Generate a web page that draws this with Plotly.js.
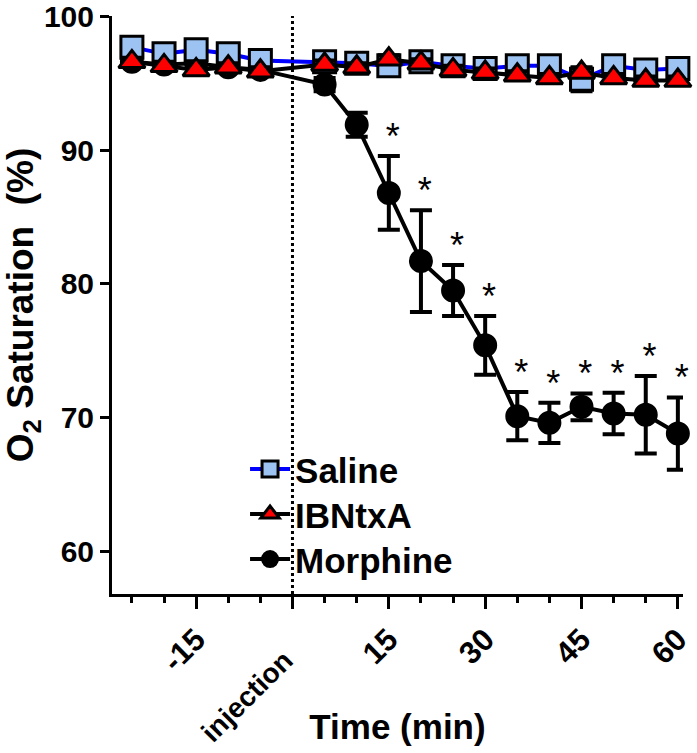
<!DOCTYPE html>
<html>
<head>
<meta charset="utf-8">
<script src="https://cdn.plot.ly/plotly-3.0.1.min.js"></script>
<style>html,body{margin:0;padding:0;background:#fff;}#chart{width:697px;height:753px;}</style>
</head>
<body>
<div id="chart"></div>
<script>
// Time points (min)
const times = [-25, -20, -15, -10, -5, 5, 10, 15, 20, 25, 30, 35, 40, 45, 50, 55, 60];
// Series values (O2 saturation, %)
const saline    = [97.7, 97.2, 97.5, 97.2, 96.7, 96.6, 96.5, 96.3, 96.6, 96.3, 96.1, 96.3, 96.3, 95.3, 96.3, 96.0, 96.1];
const salineErr = [0.3, 0.3, 0.3, 0.3, 0.3, 0.2, 0.2, 0.5, 0.3, 0.3, 0.3, 0.3, 0.3, 0.9, 0.3, 0.5, 0.5];
const ibntxa    = [96.6, 96.3, 96.0, 96.2, 95.9, 96.4, 96.2, 96.8, 96.5, 96.0, 95.8, 95.6, 95.4, 95.8, 95.4, 95.2, 95.2];
const ibntxaErr = [0.3, 0.3, 0.3, 0.3, 0.3, 0.3, 0.3, 0.3, 0.3, 0.3, 0.3, 0.3, 0.3, 0.3, 0.3, 0.3, 0.3];
const morphine    = [96.6, 96.4, 96.5, 96.2, 96.0, 94.9, 91.9, 86.8, 81.7, 79.5, 75.4, 70.1, 69.6, 70.8, 70.3, 70.2, 68.8];
const morphineErr = [0.3, 0.3, 0.3, 0.3, 0.3, 0.5, 0.9, 2.75, 3.8, 1.9, 2.2, 1.8, 1.5, 1.0, 1.55, 2.9, 2.7];
// Significance markers (times with *)
const sigTimes = [15, 20, 25, 30, 35, 40, 45, 50, 55, 60];
// Axis ticks
const xTickVals = [-15, 0, 15, 30, 45, 60];
const xTickText = ['-15', '', '15', '30', '45', '60'];
const xMinorVals = [-25, -20, -10, -5, 5, 10, 20, 25, 35, 40, 50, 55];
const yTickVals = [60, 70, 80, 90, 100];
const seriesNames = ['Saline', 'IBNtxA', 'Morphine'];

const FONT = '"Liberation Sans", Arial, sans-serif';

const sigY = sigTimes.map(t => { const i = times.indexOf(t); return morphine[i] + morphineErr[i] + 1.2; });
const sigX = sigTimes.map(t => t + 0.6);

const traces = [
  {
    x: times, y: morphine, name: seriesNames[2], type: 'scatter', mode: 'lines+markers', cliponaxis: false,
    line: {color: '#000', width: 4},
    marker: {symbol: 'circle', size: 22, color: '#000', line: {color: '#000', width: 2}},
    error_y: {type: 'data', array: morphineErr, visible: true, color: '#000', thickness: 4, width: 11},
    legend: 'legend3'
  },
  {
    x: times, y: saline, name: seriesNames[0], type: 'scatter', mode: 'lines+markers', cliponaxis: false,
    line: {color: '#0000FF', width: 4},
    marker: {symbol: 'square', size: 22, color: '#9DC3F2', line: {color: '#000', width: 3}},
    error_y: {type: 'data', array: salineErr, visible: true, color: '#000', thickness: 4, width: 11},
    legend: 'legend'
  },
  {
    x: times, y: ibntxa, name: seriesNames[1], type: 'scatter', mode: 'lines+markers', cliponaxis: false,
    line: {color: '#000', width: 4},
    marker: {symbol: 'triangle-up', size: 23, color: '#FF0000', line: {color: '#000', width: 3}},
    error_y: {type: 'data', array: ibntxaErr, visible: true, color: '#000', thickness: 4, width: 11},
    legend: 'legend2'
  },
  {
    x: sigX, y: sigY, type: 'scatter', mode: 'text', text: sigTimes.map(() => '*'), cliponaxis: false,
    textposition: 'middle center', textfont: {family: FONT, size: 36, color: '#000'},
    showlegend: false, hoverinfo: 'skip'
  }
];

const legendBase = {
  x: 0.233, xanchor: 'left', yanchor: 'middle',
  font: {family: FONT, size: 35, color: '#000', weight: 'bold'},
  bgcolor: 'rgba(0,0,0,0)', itemwidth: 40
};

const layout = {
  width: 697, height: 753,
  margin: {l: 112, r: 14, t: 16, b: 159},
  paper_bgcolor: '#fff', plot_bgcolor: '#fff',
  showlegend: true,
  legend: Object.assign({}, legendBase, {y: 0.216}),
  legend2: Object.assign({}, legendBase, {y: 0.138}),
  legend3: Object.assign({}, legendBase, {y: 0.060}),
  xaxis: {
    range: [-28.1, 60.8], showgrid: false, zeroline: false,
    showline: true, linecolor: '#000', linewidth: 3,
    ticks: 'outside', ticklen: 12, tickwidth: 3, tickcolor: '#000',
    tickvals: xTickVals, ticktext: xTickText, tickangle: -45,
    tickfont: {family: FONT, size: 31, color: '#000', weight: 'bold'},
    minor: {tickvals: xMinorVals, ticks: 'outside', ticklen: 6, tickwidth: 3, tickcolor: '#000'},
    title: {text: 'Time (min)', font: {family: FONT, size: 35, color: '#000', weight: 'bold'}, standoff: 38}
  },
  yaxis: {
    range: [56.8, 100.03], showgrid: false, zeroline: false,
    showline: true, linecolor: '#000', linewidth: 3,
    ticks: 'outside', ticklen: 9, tickwidth: 3, tickcolor: '#000',
    tickvals: yTickVals, ticklabeloverflow: 'allow',
    tickfont: {family: FONT, size: 30, color: '#000', weight: 'bold'},
    title: {text: 'O<sub>2</sub> Saturation  (%)', font: {family: FONT, size: 37, color: '#000', weight: 'bold'}, standoff: 8}
  },
  shapes: [
    {type: 'line', xref: 'x', yref: 'paper', x0: 0, x1: 0, y0: 0, y1: 1, line: {color: '#000', width: 3, dash: 'dot'}}
  ],
  annotations: [
    {text: 'injection', xref: 'x', yref: 'paper', x: 0, y: -0.084, xanchor: 'right', yanchor: 'top', xshift: 9,
     textangle: -45, showarrow: false, font: {family: FONT, size: 28, color: '#000', weight: 'bold'}}
  ]
};

Plotly.newPlot('chart', traces, layout, {displayModeBar: false, staticPlot: true});
</script>
</body>
</html>
